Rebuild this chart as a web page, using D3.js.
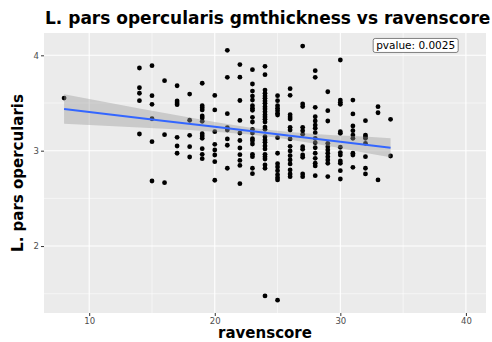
<!DOCTYPE html>
<html><head><meta charset="utf-8">
<script src="https://cdn.jsdelivr.net/npm/d3@7"></script>
<style>body{margin:0;background:#fff;font-family:"DejaVu Sans",sans-serif;}</style>
</head><body><svg id="c" width="492" height="342"></svg>
<script>
// Data: ravenscore columns and gmthickness values at each score
const scores = [8,14,15,16,17,18,19,20,21,22,23,24,25,26,27,28,29,30,31,32,33,34];
const thickness = [
  [3.552],
  [3.867,3.660,3.602,3.524,3.175],
  [3.891,3.577,3.486,3.335,3.094,2.682],
  [3.734,3.168,2.665],
  [3.681,3.521,3.500,3.482,3.140,3.049,2.973],
  [3.594,3.319,3.161,3.042,2.934],
  [3.707,3.472,3.451,3.427,3.364,3.343,3.308,3.178,3.154,3.130,3.021,2.962,2.916],
  [3.579,3.427,3.199,3.067,3.007,2.955,2.885,2.690],
  [4.052,3.769,3.388,3.241,3.217,3.123,3.057,2.816],
  [3.903,3.771,3.526,3.317,3.185,3.107,3.028,2.958,2.898,2.845,2.654],
  [3.849,3.699,3.625,3.573,3.531,3.471,3.444,3.423,3.350,3.301,3.224,3.185,3.126,3.105,3.070,2.962,2.937,2.816,2.759],
  [3.885,3.797,3.636,3.602,3.573,3.549,3.521,3.497,3.461,3.437,3.409,3.377,3.353,3.329,3.301,3.248,3.224,3.147,3.112,3.088,3.049,3.018,2.962,2.937,2.913,2.850,2.816,1.477],
  [3.577,3.524,3.472,3.444,3.419,3.392,3.374,3.136,2.973,2.864,2.829,2.790,2.748,2.717,2.693,1.432],
  [3.650,3.581,3.377,3.353,3.332,3.245,3.217,3.123,3.046,2.997,2.948,2.903,2.861,2.798,2.756,2.727],
  [4.097,3.490,3.462,3.245,3.210,3.172,3.042,3.015,2.955,2.931,2.756,2.727],
  [3.839,3.769,3.455,3.356,3.311,3.269,3.235,3.189,3.130,3.084,3.031,2.973,2.920,2.868,2.840,2.738],
  [3.618,3.419,3.311,3.077,3.042,3.007,2.973,2.937,2.903,2.868,2.728],
  [3.951,3.531,3.507,3.486,3.199,3.182,3.036,2.980,2.955,2.892,2.868,2.790,2.703],
  [3.531,3.385,3.259,3.210,3.164,3.130,2.973,2.955,2.826],
  [3.315,3.164,3.147,3.130,3.077,2.937,2.816,2.756],
  [3.461,3.398,2.693],
  [3.329,2.944]
];
// Fitted regression line and confidence band
const fitX = [8,12,16,20,24,28,31,34];
const fitY = [3.437,3.375,3.312,3.250,3.187,3.125,3.078,3.031];
const bandHalf = [0.154,0.118,0.083,0.051,0.035,0.051,0.075,0.100];
const xTicks = [10,20,30,40];
const xMinor = [15,25,35];
const yTicks = [2,3,4];
const yMinor = [1.5,2.5,3.5];
const titleText = "L. pars opercularis gmthickness vs ravenscore";
const xLabel = "ravenscore";
const yLabel = "L. pars opercularis";
const pLabel = "pvalue: 0.0025";
const pPos = [36, 4.1];

const points = [];
scores.forEach((s,i)=>thickness[i].forEach(v=>points.push({x:s,y:v})));

const L=44,R=486,T=33,B=313;
const svg = d3.select("#c");
const x = d3.scaleLinear().domain([6.4,41.6]).range([L,R]);
const y = d3.scaleLinear().domain([1.298,4.234]).range([B,T]);

svg.append("rect").attr("x",L).attr("y",T).attr("width",R-L).attr("height",B-T).attr("fill","#EBEBEB");
const g = svg.append("g");
g.selectAll(".vmin").data(xMinor).join("line").attr("x1",d=>x(d)).attr("x2",d=>x(d)).attr("y1",T).attr("y2",B).attr("stroke","#fff").attr("stroke-width",0.55);
g.selectAll(".hmin").data(yMinor).join("line").attr("y1",d=>y(d)).attr("y2",d=>y(d)).attr("x1",L).attr("x2",R).attr("stroke","#fff").attr("stroke-width",0.55);
g.selectAll(".vmaj").data(xTicks).join("line").attr("x1",d=>x(d)).attr("x2",d=>x(d)).attr("y1",T).attr("y2",B).attr("stroke","#fff").attr("stroke-width",1.1);
g.selectAll(".hmaj").data(yTicks).join("line").attr("y1",d=>y(d)).attr("y2",d=>y(d)).attr("x1",L).attr("x2",R).attr("stroke","#fff").attr("stroke-width",1.1);

svg.append("g").selectAll("circle").data(points).join("circle")
  .attr("cx",d=>x(d.x)).attr("cy",d=>y(d.y)).attr("r",2.4).attr("fill","#000");

const band = fitX.map((fx,i)=>({x:fx,lo:fitY[i]-bandHalf[i],hi:fitY[i]+bandHalf[i],m:fitY[i]}));
svg.append("path").datum(band).attr("d",d3.area().x(d=>x(d.x)).y0(d=>y(d.lo)).y1(d=>y(d.hi)).curve(d3.curveMonotoneX))
  .attr("fill","#999999").attr("fill-opacity",0.4);
svg.append("path").datum(band).attr("d",d3.line().x(d=>x(d.x)).y(d=>y(d.m)))
  .attr("fill","none").attr("stroke","#3366FF").attr("stroke-width",2);

// axes
const xa = svg.append("g").attr("transform",`translate(0,${B})`).call(d3.axisBottom(x).tickValues(xTicks).tickFormat(d3.format("d")).tickSize(3).tickPadding(2));
const ya = svg.append("g").attr("transform",`translate(${L},0)`).call(d3.axisLeft(y).tickValues(yTicks).tickFormat(d3.format("d")).tickSize(3).tickPadding(2));
[xa,ya].forEach(a=>{a.select(".domain").remove();a.selectAll("line").attr("stroke","#333");
  a.selectAll("text").attr("fill","#4D4D4D").style("font-size","8.5px").style("font-family","DejaVu Sans");});

// p-value label
const pg = svg.append("g");
const prect = pg.append("rect");
const pt = pg.append("text").attr("x",x(pPos[0])).attr("y",y(pPos[1])).attr("dy","0.35em").attr("text-anchor","middle")
  .style("font-size","10.5px").style("font-family","DejaVu Sans").attr("fill","#000").text(pLabel);
const bb = pt.node().getBBox();
prect.attr("x",bb.x-3).attr("y",bb.y-1).attr("width",bb.width+6).attr("height",bb.height+2)
  .attr("rx",2).attr("fill","#fff").attr("stroke","#333").attr("stroke-width",0.6);

svg.append("text").attr("x",45).attr("y",24).style("font-size","17px").style("font-weight","bold").text(titleText);
svg.append("text").attr("x",(L+R)/2).attr("y",338).attr("text-anchor","middle").style("font-size","15px").style("font-weight","bold").text(xLabel);
svg.append("text").attr("transform",`translate(23,${(T+B)/2}) rotate(-90)`).attr("text-anchor","middle").style("font-size","15px").style("font-weight","bold").text(yLabel);
</script></body></html>
